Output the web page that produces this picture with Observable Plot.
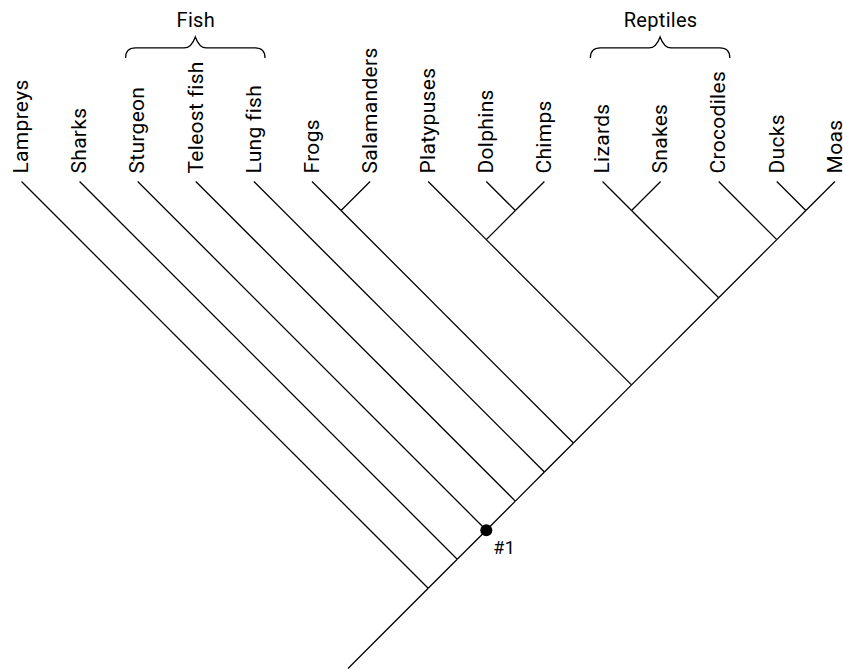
<!DOCTYPE html>
<html>
<head>
<meta charset="utf-8">
<script src="https://cdn.jsdelivr.net/npm/d3@7"></script>
<script src="https://cdn.jsdelivr.net/npm/@observablehq/plot@0.6"></script>
<style>
  html, body { margin: 0; padding: 0; background: #ffffff; }
  #chart svg { display: block; }
  #chart svg text { letter-spacing: 0.3px; }
</style>
</head>
<body>
<div id="chart"></div>
<script>
// ---- data ----
const taxa = ["Lampreys", "Sharks", "Sturgeon", "Teleost fish", "Lung fish", "Frogs", "Salamanders",
  "Platypuses", "Dolphins", "Chimps", "Lizards", "Snakes", "Crocodiles", "Ducks", "Moas"];

// topology (nested clades)
const tree = ["Lampreys", ["Sharks", ["Sturgeon", ["Teleost fish", ["Lung fish",
  [["Frogs", "Salamanders"],
   [["Platypuses", ["Dolphins", "Chimps"]],
    [["Lizards", "Snakes"], ["Crocodiles", ["Ducks", "Moas"]]]]]]]]]];

const rootStem = 1.38;                       // length of the stem below the root
const markerClade = ["Sturgeon", "Moas"];    // node marked with a dot
const markerLabel = "#1";

const groupLabels = ["Fish", "Reptiles"];
const groupFrom = ["Sturgeon", "Lizards"];
const groupTo = ["Lung fish", "Crocodiles"];

// ---- layout (in tip-spacing units) ----
const idx = new Map(taxa.map((t, i) => [t, i]));
const links = [];
const nodes = [];
function layout(n) {
  if (typeof n === "string") { const i = idx.get(n); return {a: i, b: i, x: i, y: 0}; }
  const kids = n.map(layout);
  const a = d3.min(kids, k => k.a), b = d3.max(kids, k => k.b);
  const p = {a, b, x: (a + b) / 2, y: (b - a) / 2};
  for (const k of kids) links.push({x1: p.x, y1: p.y, x2: k.x, y2: k.y});
  nodes.push(p);
  return p;
}
const root = layout(tree);
links.push({x1: root.x - rootStem, y1: root.y + rootStem, x2: root.x, y2: root.y});

const marker = nodes.filter(n => n.a === idx.get(markerClade[0]) && n.b === idx.get(markerClade[1]));

const bracePad = 0.2;
const braceLevel = -2.29;
const groups = groupLabels.map((label, j) => ({
  label,
  x0: idx.get(groupFrom[j]) - bracePad,
  x1: idx.get(groupTo[j]) + bracePad,
  xm: (idx.get(groupFrom[j]) + idx.get(groupTo[j])) / 2
}));

function braces(index, scales) {
  const {x, y} = scales;
  const g = d3.create("svg:g")
    .attr("fill", "none").attr("stroke", "black").attr("stroke-width", 1.3);
  for (const gr of groups) {
    const x0 = x(gr.x0), x1 = x(gr.x1), xm = x(gr.xm), yb = y(braceLevel);
    const r = 10, ye = yb + 10, yp = yb - 11;
    const p = d3.path();
    p.moveTo(x0, ye);
    p.quadraticCurveTo(x0, yb, x0 + r, yb);
    p.lineTo(xm - 11, yb);
    p.quadraticCurveTo(xm - 4, yb, xm, yp);
    p.quadraticCurveTo(xm + 4, yb, xm + 11, yb);
    p.lineTo(x1 - r, yb);
    p.quadraticCurveTo(x1, yb, x1, ye);
    g.append("path").attr("d", p.toString());
  }
  return g.node();
}

const chart = Plot.plot({
  width: 843,
  height: 670,
  margin: 0,
  style: {background: "#ffffff", fontFamily: "Roboto, 'DejaVu Sans', sans-serif", color: "black"},
  x: {domain: [0, 14], range: [21, 834.4], axis: null},
  y: {domain: [0, 8.38], range: [181, 668], axis: null},
  marks: [
    Plot.link(links, {x1: "x1", y1: "y1", x2: "x2", y2: "y2", stroke: "black", strokeWidth: 1.3}),
    Plot.text(taxa, {x: (d, i) => i, y: 0, text: d => d, rotate: -90, textAnchor: "start",
      dy: -8, fontSize: 21, fill: "black"}),
    Plot.dot(marker, {x: "x", y: "y", r: 6, fill: "black", stroke: null}),
    Plot.text(marker, {x: "x", y: "y", text: () => markerLabel, textAnchor: "start",
      dx: 7, dy: 18, fontSize: 18, fill: "black"}),
    braces,
    Plot.text(groups, {x: "xm", y: braceLevel, text: "label", dy: -28, fontSize: 20, fill: "black"})
  ]
});
document.getElementById("chart").appendChild(chart);
</script>
</body>
</html>
